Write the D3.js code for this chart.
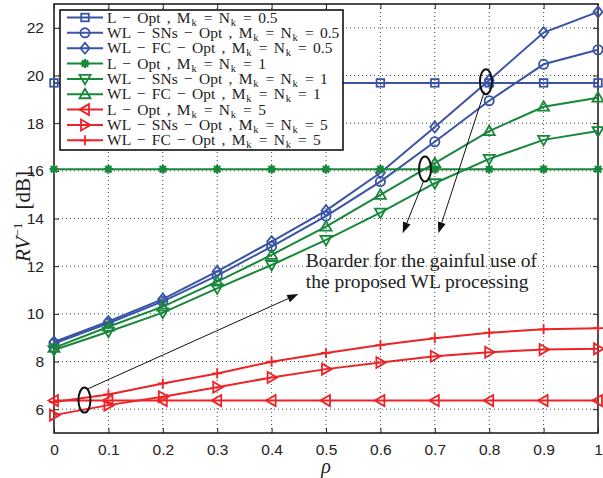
<!DOCTYPE html>
<html>
<head>
<meta charset="utf-8">
<script src="https://cdn.jsdelivr.net/npm/d3@7"></script>
<style>
  html, body { margin: 0; padding: 0; background: #fff; }
  svg { display: block; }
  .tick-label { font-family: "Liberation Sans", Arial, sans-serif; font-size: 15.5px; fill: #222; }
  .serif { font-family: "Liberation Serif", "Times New Roman", serif; fill: #222; }
</style>
</head>
<body>
<div id="chart"></div>
<script>
// --- datos ---
const rho = [0, 0.1, 0.2, 0.3, 0.4, 0.5, 0.6, 0.7, 0.8, 0.9, 1];

const lOpt05  = [19.69, 19.69, 19.69, 19.69, 19.69, 19.69, 19.69, 19.69, 19.69, 19.69, 19.69];
const wlSns05 = [8.75, 9.6, 10.52, 11.6, 12.82, 14.1, 15.55, 17.22, 18.94, 20.47, 21.08];
const wlFc05  = [8.82, 9.68, 10.62, 11.78, 13.03, 14.33, 15.92, 17.84, 19.8, 21.8, 22.67];
const lOpt1   = [16.07, 16.07, 16.07, 16.07, 16.07, 16.07, 16.07, 16.07, 16.07, 16.07, 16.07];
const wlSns1  = [8.48, 9.25, 10.05, 11.07, 12.05, 13.1, 14.25, 15.48, 16.5, 17.3, 17.67];
const wlFc1   = [8.57, 9.46, 10.3, 11.35, 12.47, 13.66, 14.99, 16.32, 17.67, 18.69, 19.07];
const lOpt5   = [6.36, 6.36, 6.36, 6.36, 6.36, 6.36, 6.36, 6.36, 6.36, 6.36, 6.36];
const wlSns5  = [5.75, 6.17, 6.52, 6.92, 7.33, 7.68, 7.96, 8.22, 8.39, 8.5, 8.53];
const wlFc5   = [6.3, 6.62, 7.08, 7.5, 7.99, 8.36, 8.69, 8.98, 9.21, 9.35, 9.4];

const schemes  = ["L − Opt", "WL − SNs − Opt", "WL − FC − Opt"];
const mkValues = ["0.5", "1", "5"];

const xTicks = [0, 0.1, 0.2, 0.3, 0.4, 0.5, 0.6, 0.7, 0.8, 0.9, 1];
const xTickLabels = ["0", "0.1", "0.2", "0.3", "0.4", "0.5", "0.6", "0.7", "0.8", "0.9", "1"];
const yTicks = [6, 8, 10, 12, 14, 16, 18, 20, 22];

const annotationText = ["Boarder for the gainful use of", "the proposed WL processing"];

// Colores y marcadores
const blue = "#3953a6", green = "#17873a", red = "#ee2326";
const series = [
  { values: lOpt05,  color: blue,  marker: "square",  scheme: 0, mk: 0 },
  { values: wlSns05, color: blue,  marker: "circle",  scheme: 1, mk: 0 },
  { values: wlFc05,  color: blue,  marker: "diamond", scheme: 2, mk: 0 },
  { values: lOpt1,   color: green, marker: "star",    scheme: 0, mk: 1 },
  { values: wlSns1,  color: green, marker: "tdown",   scheme: 1, mk: 1 },
  { values: wlFc1,   color: green, marker: "tup",     scheme: 2, mk: 1 },
  { values: lOpt5,   color: red,   marker: "tleft",   scheme: 0, mk: 2 },
  { values: wlSns5,  color: red,   marker: "tright",  scheme: 1, mk: 2 },
  { values: wlFc5,   color: red,   marker: "plus",    scheme: 2, mk: 2 },
];

const width = 603, height = 478;
const margin = { top: 4, right: 5, bottom: 45, left: 54 };

const svg = d3.select("#chart").append("svg")
  .attr("width", width).attr("height", height);

const x = d3.scaleLinear().domain([0, 1]).range([margin.left, width - margin.right]);
const y = d3.scaleLinear().domain([5, 23]).range([height - margin.bottom, margin.top]);

const x0 = x.range()[0], x1 = x.range()[1], y0 = y.range()[0], y1 = y.range()[1];

// Rejilla punteada
const grid = svg.append("g");
grid.selectAll("line.gx").data(xTicks.slice(1, -1)).enter().append("line")
  .attr("x1", d => x(d)).attr("x2", d => x(d)).attr("y1", y0).attr("y2", y1)
  .attr("stroke", "#333").attr("stroke-width", 0.9).attr("stroke-dasharray", "1,3");
grid.selectAll("line.gy").data(yTicks).enter().append("line")
  .attr("y1", d => y(d)).attr("y2", d => y(d)).attr("x1", x0).attr("x2", x1)
  .attr("stroke", "#333").attr("stroke-width", 0.9).attr("stroke-dasharray", "1,3");

// Ejes con ticks hacia dentro (estilo MATLAB)
const tickLen = 5;
svg.append("g").attr("transform", `translate(0,${y0})`)
  .call(d3.axisBottom(x).tickValues(xTicks).tickSize(-tickLen).tickPadding(11)
    .tickFormat((d, i) => xTickLabels[i]))
  .call(g => g.select(".domain").remove())
  .call(g => g.selectAll("text").attr("class", "tick-label"));
svg.append("g").attr("transform", `translate(0,${y1})`)
  .call(d3.axisTop(x).tickValues(xTicks).tickSize(-tickLen).tickFormat(""))
  .call(g => g.select(".domain").remove());
svg.append("g").attr("transform", `translate(${x0},0)`)
  .call(d3.axisLeft(y).tickValues(yTicks).tickSize(-tickLen).tickPadding(10))
  .call(g => g.select(".domain").remove())
  .call(g => g.selectAll("text").attr("class", "tick-label"));
svg.append("g").attr("transform", `translate(${x1},0)`)
  .call(d3.axisRight(y).tickValues(yTicks).tickSize(-tickLen).tickFormat(""))
  .call(g => g.select(".domain").remove());
svg.selectAll(".tick line").attr("stroke", "#222").attr("stroke-width", 1);

svg.append("rect")
  .attr("x", x0).attr("y", y1).attr("width", x1 - x0).attr("height", y0 - y1)
  .attr("fill", "none").attr("stroke", "#222").attr("stroke-width", 1.6);

// Marcadores
function drawMarker(g, type, cx, cy, color) {
  const s = 4.5;
  const common = sel => sel.attr("fill", "none").attr("stroke", color).attr("stroke-width", 1.8);
  if (type === "square") {
    g.append("rect").attr("x", cx - 3.8).attr("y", cy - 3.8).attr("width", 7.6).attr("height", 7.6).call(common);
  } else if (type === "circle") {
    g.append("circle").attr("cx", cx).attr("cy", cy).attr("r", 4.6).call(common);
  } else if (type === "diamond") {
    g.append("path").attr("d", `M${cx},${cy - 5.5}L${cx + 4.5},${cy}L${cx},${cy + 5.5}L${cx - 4.5},${cy}Z`).call(common);
  } else if (type === "tup") {
    g.append("path").attr("d", `M${cx},${cy - 5.5}L${cx + 5.5},${cy + 4}L${cx - 5.5},${cy + 4}Z`).call(common);
  } else if (type === "tdown") {
    g.append("path").attr("d", `M${cx},${cy + 5.5}L${cx + 5.5},${cy - 4}L${cx - 5.5},${cy - 4}Z`).call(common);
  } else if (type === "tleft") {
    g.append("path").attr("d", `M${cx - 5.5},${cy}L${cx + 4},${cy - 5.5}L${cx + 4},${cy + 5.5}Z`).call(common);
  } else if (type === "tright") {
    g.append("path").attr("d", `M${cx + 5.5},${cy}L${cx - 4},${cy - 5.5}L${cx - 4},${cy + 5.5}Z`).call(common);
  } else if (type === "plus") {
    g.append("path").attr("d", `M${cx - 5},${cy}H${cx + 5}M${cx},${cy - 5}V${cy + 5}`).call(common);
  } else if (type === "star") {
    g.append("path").attr("d",
      `M${cx - s},${cy}H${cx + s}M${cx},${cy - s}V${cy + s}` +
      `M${cx - 3.2},${cy - 3.2}L${cx + 3.2},${cy + 3.2}M${cx - 3.2},${cy + 3.2}L${cx + 3.2},${cy - 3.2}`)
      .call(common).attr("stroke-width", 2.2);
  }
}

// Series
const line = d3.line().x((d, i) => x(rho[i])).y(d => y(d));
const plot = svg.append("g");
series.forEach(s => {
  const g = plot.append("g");
  g.append("path").datum(s.values).attr("d", line)
    .attr("fill", "none").attr("stroke", s.color).attr("stroke-width", 2);
  s.values.forEach((v, i) => drawMarker(g, s.marker, x(rho[i]), y(v), s.color));
});

// Anotaciones (coordenadas en unidades de datos)
const ellipses = [[0.794, 19.74], [0.682, 16.08], [0.056, 6.38]];
const arrows = [
  { from: [0.060, 6.83],  to: [0.449, 10.83] },
  { from: [0.791, 19.32], to: [0.7065, 13.38] },
  { from: [0.679, 15.55], to: [0.641, 13.38] },
];
const ann = svg.append("g");
ellipses.forEach(e => {
  ann.append("ellipse").attr("cx", x(e[0])).attr("cy", y(e[1])).attr("rx", 6).attr("ry", 12.5)
    .attr("fill", "none").attr("stroke", "#111").attr("stroke-width", 2);
});
arrows.forEach(a => {
  const xa = x(a.from[0]), ya = y(a.from[1]), xb = x(a.to[0]), yb = y(a.to[1]);
  const ang = Math.atan2(yb - ya, xb - xa);
  const L = 11, W = 4;
  const bx = xb - L * Math.cos(ang), by = yb - L * Math.sin(ang);
  ann.append("line").attr("x1", xa).attr("y1", ya).attr("x2", bx).attr("y2", by)
    .attr("stroke", "#111").attr("stroke-width", 1);
  ann.append("path").attr("d",
    `M${xb},${yb}L${bx + W * Math.sin(ang)},${by - W * Math.cos(ang)}L${bx - W * Math.sin(ang)},${by + W * Math.cos(ang)}Z`)
    .attr("fill", "#111");
});
ann.selectAll("text.note").data(annotationText).enter().append("text")
  .attr("class", "serif note")
  .attr("x", x(0.463)).attr("y", (d, i) => y(11.97) + i * 21.5)
  .attr("font-size", 19.5)
  .text(d => d);

// Leyenda
const lg = svg.append("g");
const lgX = 60, lgY = 10, lgW = 283, lgH = 140, rowH = 15.35;
lg.append("rect").attr("x", lgX).attr("y", lgY).attr("width", lgW).attr("height", lgH)
  .attr("fill", "#fff").attr("stroke", "#111").attr("stroke-width", 1.6);
series.forEach((s, i) => {
  const cy = lgY + 7.5 + i * rowH;
  const g = lg.append("g");
  g.append("line").attr("x1", lgX + 7).attr("x2", lgX + 43).attr("y1", cy).attr("y2", cy)
    .attr("stroke", s.color).attr("stroke-width", 2);
  drawMarker(g, s.marker, lgX + 25, cy, s.color);
  const t = g.append("text").attr("class", "serif").attr("x", lgX + 47).attr("y", cy + 5)
    .attr("font-size", 15.5).attr("word-spacing", 2.4).attr("xml:space", "preserve");
  t.append("tspan").text(`${schemes[s.scheme]} , M`);
  t.append("tspan").attr("font-size", 10.5).attr("dx", 0.8).attr("baseline-shift", "-3").text("k");
  t.append("tspan").attr("dx", 0.8).text(" = N");
  t.append("tspan").attr("font-size", 10.5).attr("dx", 0.8).attr("baseline-shift", "-3").text("k");
  t.append("tspan").attr("dx", 0.8).text(` = ${mkValues[s.mk]}`);
});

// Etiquetas de ejes
svg.append("text").attr("class", "serif").attr("x", x(0.5)).attr("y", 473)
  .attr("text-anchor", "middle").attr("font-size", 20).attr("font-style", "italic").text("ρ");

const yl = svg.append("text").attr("class", "serif")
  .attr("transform", `translate(30,${(y0 + y1) / 2 - 2}) rotate(-90)`)
  .attr("text-anchor", "middle").attr("font-size", 21);
yl.append("tspan").attr("font-style", "italic").text("RV");
yl.append("tspan").attr("font-size", 13.5).attr("baseline-shift", "8").text("−1");
yl.append("tspan").attr("dx", 13).text("[dB]");
</script>
</body>
</html>
